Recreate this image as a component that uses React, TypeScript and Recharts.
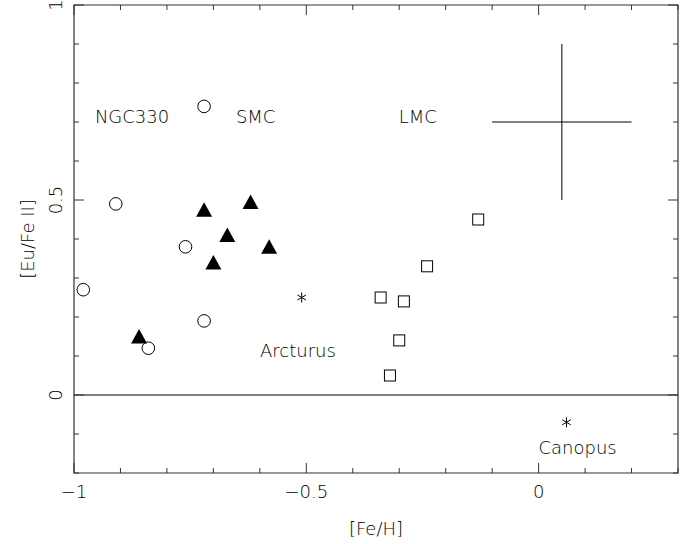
import { ErrorBar, ReferenceArea, ReferenceLine, Scatter, ScatterChart, XAxis, YAxis } from 'recharts';

// NGC330 stars (open circles)
const circleFeH = [-0.98, -0.91, -0.72, -0.76, -0.72, -0.84];
const circleEu = [0.27, 0.49, 0.74, 0.38, 0.19, 0.12];
// SMC (filled triangles)
const triangleFeH = [-0.86, -0.72, -0.62, -0.67, -0.7, -0.58];
const triangleEu = [0.15, 0.475, 0.495, 0.41, 0.34, 0.38];
// LMC (open squares)
const squareFeH = [-0.13, -0.24, -0.34, -0.29, -0.3, -0.32];
const squareEu = [0.45, 0.33, 0.25, 0.24, 0.14, 0.05];
// Arcturus, Canopus (asterisks)
const starFeH = [-0.51, 0.06];
const starEu = [0.25, -0.07];
// typical error
const errFeH = [0.05];
const errEu = [0.7];
const errX = [0.15];
const errY = [0.2];

const labelText = ['NGC330', 'SMC', 'LMC', 'Arcturus', 'Canopus'];
const labelFeH = [-0.875, -0.609, -0.26, -0.518, 0.084];
const labelEu = [0.697, 0.697, 0.697, 0.097, -0.152];

const X_MIN = -1;
const X_MAX = 0.3;
const Y_MIN = -0.2;
const Y_MAX = 1;
const xTicks = [-1, -0.9, -0.8, -0.7, -0.6, -0.5, -0.4, -0.3, -0.2, -0.1, 0, 0.1, 0.2, 0.3];
const yTicks = [-0.2, -0.1, 0, 0.1, 0.2, 0.3, 0.4, 0.5, 0.6, 0.7, 0.8, 0.9, 1];
const xMajor = [-1, -0.5, 0];
const yMajor = [0, 0.5, 1];

const isMajor = (v: number, majors: number[]) => majors.some((m) => Math.abs(m - v) < 1e-6);
const fmt = (v: number) => (v < 0 ? '\u2212' + Math.abs(v) : String(v));

const toPoints = (xs: number[], ys: number[]) => xs.map((x, i) => ({ x, y: ys[i] }));
const circles = toPoints(circleFeH, circleEu);
const triangles = toPoints(triangleFeH, triangleEu);
const squares = toPoints(squareFeH, squareEu);
const stars = toPoints(starFeH, starEu);
const errors = errFeH.map((x, i) => ({ x, y: errEu[i], ex: errX[i], ey: errY[i] }));
const labels = labelText.map((name, i) => ({ x: labelFeH[i], y: labelEu[i], name }));

// inward tick marks on all four sides of the box
const tickMarks = [
  ...xTicks.map((v) => ({ x: v, y: Y_MIN, side: 'bottom', major: isMajor(v, xMajor) })),
  ...xTicks.map((v) => ({ x: v, y: Y_MAX, side: 'top', major: isMajor(v, xMajor) })),
  ...yTicks.map((v) => ({ x: X_MIN, y: v, side: 'left', major: isMajor(v, yMajor) })),
  ...yTicks.map((v) => ({ x: X_MAX, y: v, side: 'right', major: isMajor(v, yMajor) })),
];

const FONT = "'DejaVu Sans', sans-serif";
const INK = '#000';
const FRAME = '#333';

const TickMark = (props: any) => {
  const { cx, cy, payload } = props;
  const len = payload.major ? 10 : 5;
  let d = '';
  if (payload.side === 'bottom') d = `M${cx},${cy}V${cy - len}`;
  else if (payload.side === 'top') d = `M${cx},${cy}V${cy + len}`;
  else if (payload.side === 'left') d = `M${cx},${cy}H${cx + len}`;
  else d = `M${cx},${cy}H${cx - len}`;
  return <path d={d} stroke={FRAME} strokeWidth={1} fill="none" />;
};

const BottomLabel = ({ x, y, payload }: any) =>
  isMajor(payload.value, xMajor) ? (
    <text x={x} y={y + 25} textAnchor="middle" fontFamily={FONT} fontSize={18} fontWeight={200} fill={INK}>
      {fmt(payload.value)}
    </text>
  ) : (
    <g />
  );

const LeftLabel = ({ x, y, payload }: any) => {
  if (!isMajor(payload.value, yMajor)) return <g />;
  const tx = x - 12;
  return (
    <text
      x={tx}
      y={y}
      transform={`rotate(-90 ${tx} ${y})`}
      textAnchor="middle"
      fontFamily={FONT}
      fontSize={18}
      fontWeight={200}
      fill={INK}
    >
      {fmt(payload.value)}
    </text>
  );
};

const Circle = ({ cx, cy }: any) => <circle cx={cx} cy={cy} r={6.3} fill="none" stroke="#000" strokeWidth={1} />;
const Triangle = ({ cx, cy }: any) => (
  <polygon points={`${cx},${cy - 7.5} ${cx + 8},${cy + 7} ${cx - 8},${cy + 7}`} fill="#000" />
);
const Square = ({ cx, cy }: any) => (
  <rect x={cx - 5.5} y={cy - 5.5} width={11} height={11} fill="none" stroke="#000" strokeWidth={1} />
);
const Star = ({ cx, cy }: any) => (
  <g stroke="#000" strokeWidth={1}>
    <line x1={cx} y1={cy - 5} x2={cx} y2={cy + 5} />
    <line x1={cx - 4.3} y1={cy - 2.5} x2={cx + 4.3} y2={cy + 2.5} />
    <line x1={cx - 4.3} y1={cy + 2.5} x2={cx + 4.3} y2={cy - 2.5} />
  </g>
);
const NameLabel = ({ cx, cy, payload }: any) => (
  <text x={cx} y={cy} textAnchor="middle" fontFamily={FONT} fontSize={18} fontWeight={200} fill={INK}>
    {payload.name}
  </text>
);
const Nothing = () => <g />;

export default function App() {
  return (
    <div style={{ position: 'absolute', left: 0, top: 0, width: 683, height: 544, background: '#fff' }}>
      <ScatterChart width={683} height={544} margin={{ top: 5, right: 5, bottom: 0, left: 0 }}>
        <XAxis
          dataKey="x"
          type="number"
          domain={[X_MIN, X_MAX]}
          ticks={xTicks}
          interval={0}
          height={71}
          tickSize={0}
          tickMargin={0}
          tickLine={false}
          axisLine={false}
          tick={<BottomLabel />}
          label={{
            content: ({ viewBox }: any) => (
              <text
                x={viewBox.x + viewBox.width / 2}
                y={viewBox.y + 62}
                textAnchor="middle"
                fontFamily={FONT}
                fontSize={18}
                fontWeight={200}
                fill={INK}
              >
                [Fe/H]
              </text>
            ),
          }}
        />
        <YAxis
          dataKey="y"
          type="number"
          domain={[Y_MIN, Y_MAX]}
          ticks={yTicks}
          interval={0}
          width={74}
          tickSize={0}
          tickMargin={0}
          tickLine={false}
          axisLine={false}
          tick={<LeftLabel />}
          label={{
            content: ({ viewBox }: any) => {
              const lx = viewBox.x + 34;
              const ly = viewBox.y + viewBox.height / 2;
              return (
                <text
                  x={lx}
                  y={ly}
                  transform={`rotate(-90 ${lx} ${ly})`}
                  textAnchor="middle"
                  fontFamily={FONT}
                  fontSize={18}
                  fontWeight={200}
                  fill={INK}
                >
                  [Eu/Fe II]
                </text>
              );
            },
          }}
        />
        {/* the plot box */}
        <ReferenceArea
          x1={X_MIN}
          x2={X_MAX}
          y1={Y_MIN}
          y2={Y_MAX}
          fill="none"
          fillOpacity={0}
          stroke={FRAME}
          strokeWidth={1.2}
          strokeOpacity={1}
          ifOverflow="visible"
        />
        <ReferenceLine y={0} stroke="#000" strokeWidth={1} />
        <Scatter data={tickMarks} shape={<TickMark />} isAnimationActive={false} />
        <Scatter data={errors} shape={<Nothing />} isAnimationActive={false}>
          <ErrorBar dataKey="ex" direction="x" width={0} stroke="#000" strokeWidth={1} isAnimationActive={false} />
          <ErrorBar dataKey="ey" direction="y" width={0} stroke="#000" strokeWidth={1} isAnimationActive={false} />
        </Scatter>
        <Scatter data={circles} shape={<Circle />} isAnimationActive={false} />
        <Scatter data={triangles} shape={<Triangle />} isAnimationActive={false} />
        <Scatter data={squares} shape={<Square />} isAnimationActive={false} />
        <Scatter data={stars} shape={<Star />} isAnimationActive={false} />
        <Scatter data={labels} shape={<NameLabel />} isAnimationActive={false} />
      </ScatterChart>
    </div>
  );
}
